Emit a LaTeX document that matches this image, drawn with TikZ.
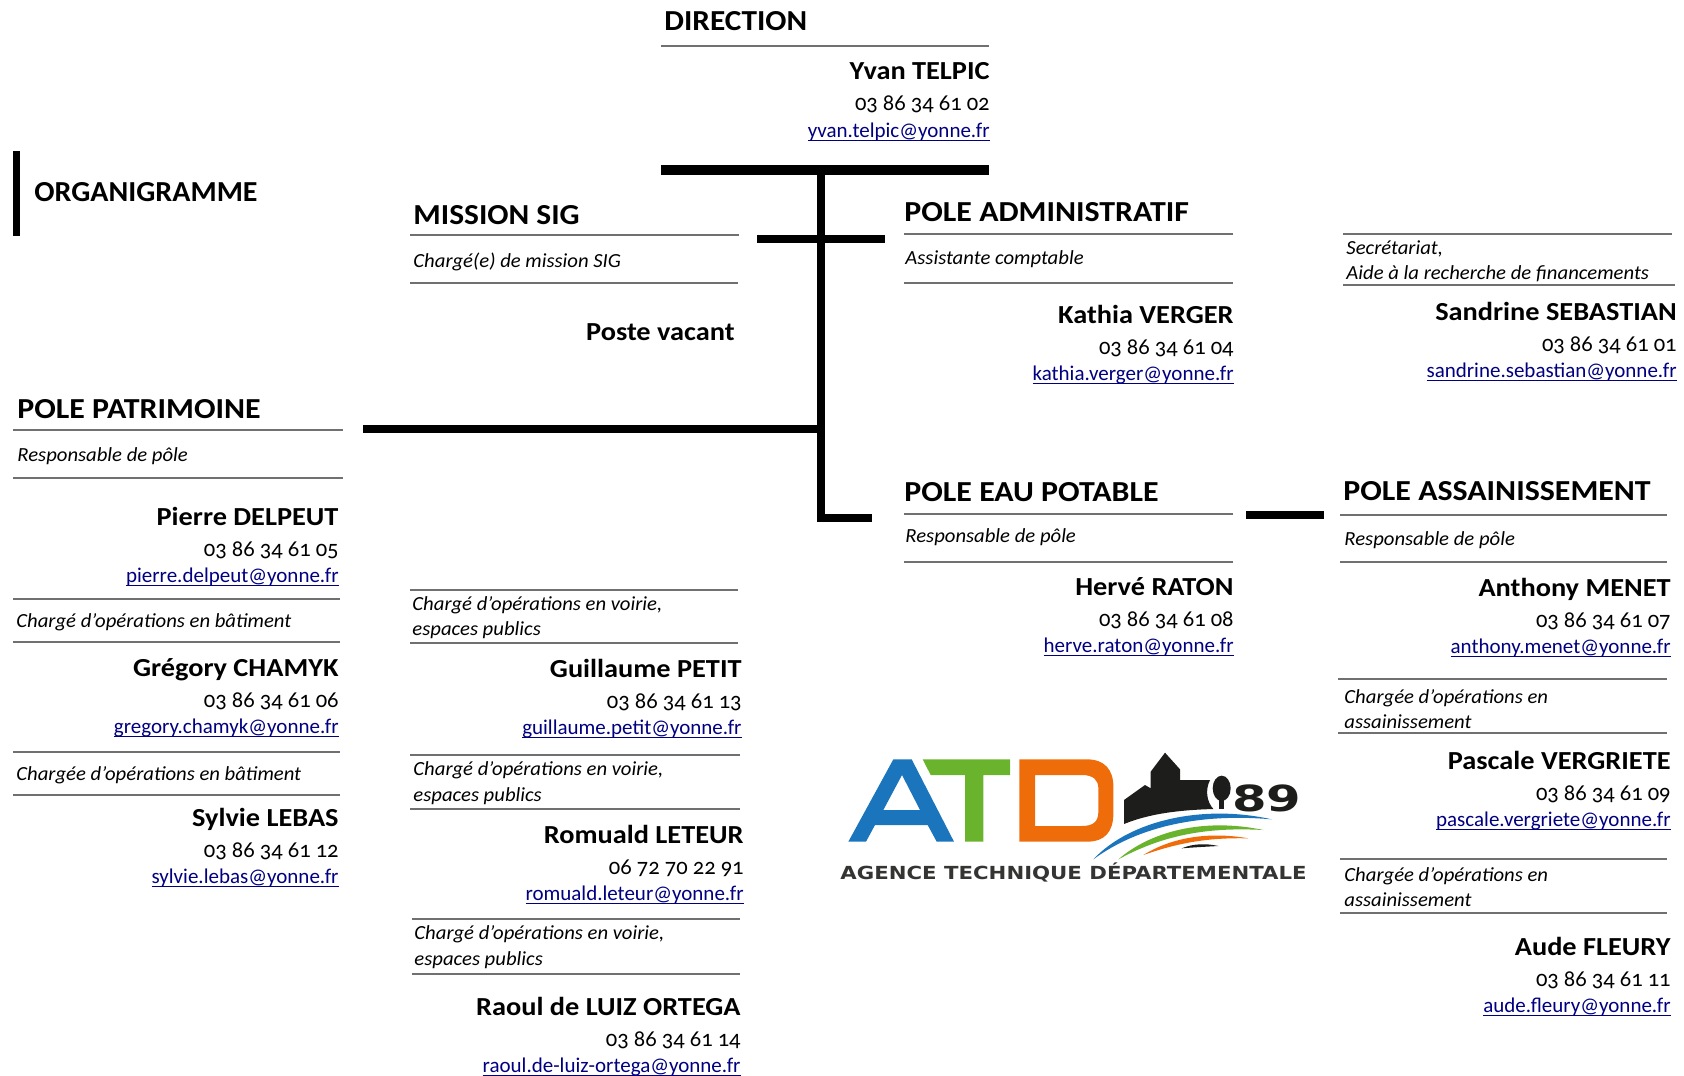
\documentclass[tikz,border=0pt]{standalone}
\usepackage{fontspec}
\setmainfont{Carlito}[Numbers=OldStyle]
\newfontfamily\logofont{DejaVu Sans}
\definecolor{maillink}{HTML}{000080}
\definecolor{rulegray}{HTML}{707070}
\definecolor{logoblue}{HTML}{1A75BC}
\definecolor{logogreen}{HTML}{6AB42D}
\definecolor{logoorange}{HTML}{EF6C0A}
\definecolor{logoblack}{HTML}{1D1D1B}
\tikzset{
  titletext/.style={anchor=base west,inner sep=0pt,font=\fontsize{14.5}{16}\selectfont\bfseries,xscale=1.10,transform shape},
  nametext/.style={anchor=base east,inner sep=0pt,font=\fontsize{13}{15}\selectfont\bfseries,xscale=1.09,transform shape},
  phonetext/.style={anchor=base east,inner sep=0pt,font=\fontsize{11.5}{14}\selectfont,xscale=0.98,transform shape},
  mailtext/.style={anchor=base east,inner sep=0pt,text=maillink,font=\fontsize{10.5}{13}\selectfont,xscale=1.0,transform shape},
  roletext/.style={anchor=base west,inner sep=0pt,font=\fontsize{10}{12}\selectfont\itshape,xscale=1.035,transform shape},
  sepline/.style={rulegray,line width=0.6pt},
  heavybar/.style={black,line width=4pt},
}
\newcommand{\mailul}[1]{\underline{\smash{#1}}}

\begin{document}
\begin{tikzpicture}[x=0.5pt,y=-0.5pt]
    \useasboundingbox (0,0) rectangle (1684,1075);

    %---------------------------------------------------------------%
    \fill [black] (13,151) rectangle (20,236);% Title mark
    \node [titletext,xscale=0.94] (Organigramme) at (34,202) {ORGANIGRAMME};

    \node [titletext,xscale=0.98] (Direction)  at (664,31)   {DIRECTION};
    \node [titletext,xscale=0.985] (MissionSig) at (413,225)  {MISSION SIG};
    \node [titletext] (PoleAdmin)      at (904,221)  {POLE ADMINISTRATIF};
    \node [titletext] (PolePatrimoine) at (17,418)   {POLE PATRIMOINE};
    \node [titletext] (PoleEau)        at (904,501)  {POLE EAU POTABLE};
    \node [titletext] (PoleAssain)     at (1343,500) {POLE ASSAINISSEMENT};
    \node [nametext]  (PosteVacant)    at (735,340)  {Poste vacant};

    %---------------------------------------------------------------%
    \foreach \x/\y/\z in {661/46/989,410/235/739,410/283/738,904/234/1233,904/283/1233,
        1343/234/1672,1343/285/1675,13/430/343,13/478/343,13/599/340,13/642/340,13/752/340,13/795/340,
        410/590/738,410/643/738,410/755/740,410/809/740,412/919/740,412/974/740,
        904/514/1233,904/562/1233,1340/515/1667,1340/562/1667,1338/679/1667,1338/733/1667,
        1340/859/1667,1340/913/1667}{% Thin rules under titles and roles
        \draw [sepline] (\x,\y) -- (\z,\y);
    }

    %---------------------------------------------------------------%
    \foreach \rid/\x/\y/\txt in {
        a/413/267/{Chargé(e) de mission SIG},
        b/905/264/{Assistante comptable},
        c/1346/254/{Secrétariat,},
        d/1346/279/{Aide à la recherche de financements},
        e/17/461/{Responsable de pôle},
        f/16/627/{Chargé d’opérations en bâtiment},
        g/16/780/{Chargée d’opérations en bâtiment},
        h/412/610/{Chargé d’opérations en voirie,},
        i/412/635/{espaces publics},
        j/413/775/{Chargé d’opérations en voirie,},
        k/413/801/{espaces publics},
        l/414/939/{Chargé d’opérations en voirie,},
        m/414/965/{espaces publics},
        n/905/542/{Responsable de pôle},
        o/1344/545/{Responsable de pôle},
        p/1344/703/{Chargée d’opérations en},
        q/1344/728/{assainissement},
        r/1344/881/{Chargée d’opérations en},
        s/1344/906/{assainissement}}{
        \node [roletext] (Role\rid) at (\x,\y) {\txt};
    }

    %---------------------------------------------------------------%
    \foreach \pid/\x/\y/\who/\tel/\adr in {
        a/990/80/{Yvan TELPIC}/{03 86 34 61 02}/{yvan.telpic@yonne.fr},
        b/1234/323/{Kathia VERGER}/{03 86 34 61 04}/{kathia.verger@yonne.fr},
        c/1677/320/{Sandrine SEBASTIAN}/{03 86 34 61 01}/{sandrine.sebastian@yonne.fr},
        d/339/525/{Pierre DELPEUT}/{03 86 34 61 05}/{pierre.delpeut@yonne.fr},
        e/339/676/{Grégory CHAMYK}/{03 86 34 61 06}/{gregory.chamyk@yonne.fr},
        f/339/826/{Sylvie LEBAS}/{03 86 34 61 12}/{sylvie.lebas@yonne.fr},
        g/742/677/{Guillaume PETIT}/{03 86 34 61 13}/{guillaume.petit@yonne.fr},
        h/744/843/{Romuald LETEUR}/{06 72 70 22 91}/{romuald.leteur@yonne.fr},
        i/741/1015/{Raoul de LUIZ ORTEGA}/{03 86 34 61 14}/{raoul.de-luiz-ortega@yonne.fr},
        j/1234/595/{Hervé RATON}/{03 86 34 61 08}/{herve.raton@yonne.fr},
        k/1671/596/{Anthony MENET}/{03 86 34 61 07}/{anthony.menet@yonne.fr},
        l/1671/769/{Pascale VERGRIETE}/{03 86 34 61 09}/{pascale.vergriete@yonne.fr},
        m/1671/955/{Aude FLEURY}/{03 86 34 61 11}/{aude.fleury@yonne.fr}}{
        \node [nametext]  (Name\pid)  at (\x,\y)      {\who};
        \node [phonetext] (Phone\pid) at (\x,\y+31)   {\tel};
        \node [mailtext]  (Mail\pid)  at (\x,\y+57.5) {\mailul{\adr}};
    }

    %---------------------------------------------------------------%
    \coordinate (DirLeft)    at (661,170);
    \coordinate (DirRight)   at (989,170);
    \coordinate (TrunkTop)   at (821,170);
    \coordinate (TrunkEnd)   at (821,518);
    \coordinate (EauEnd)     at (872,518);
    \coordinate (SigLeft)    at (757,238.5);
    \coordinate (AdminRight) at (885,238.5);
    \coordinate (PatLeft)    at (363,428.5);
    \coordinate (PatRight)   at (821,428.5);
    \coordinate (AssLeft)    at (1246,515);
    \coordinate (AssRight)   at (1324,515);
    \draw [heavybar,line width=5pt] (DirLeft) -- (DirRight);
    \draw [heavybar,line join=miter] (TrunkTop) -- (TrunkEnd) -- (EauEnd);
    \draw [heavybar] (SigLeft) -- (AdminRight);
    \draw [heavybar] (PatLeft) -- (PatRight);
    \draw [heavybar] (AssLeft) -- (AssRight);

    %---------------------------------------------------------------%
    \begin{scope}[shift={(830,730)},x=0.16667pt,y=-0.16667pt]
        \fill [logoblue,even odd rule] (55,335) -- (190,88) -- (245,88) -- (372,335) -- (320,335) -- (293,285)
            -- (135,285) -- (108,335) -- cycle (160,240) -- (270,240) -- (216,135) -- cycle;
        \fill [logogreen] (278,88) -- (540,88) -- (540,135) -- (460,135) -- (460,335) -- (405,335) -- (405,135) -- (302,135) -- cycle;
        \fill [logoorange,even odd rule] (568,88) -- (770,88) .. controls (825,88) and (850,120) .. (850,170)
            -- (850,250) .. controls (850,305) and (825,335) .. (770,335) -- (568,335) -- cycle
            (615,135) -- (615,288) -- (755,288) .. controls (790,288) and (805,275) .. (805,245)
            -- (805,175) .. controls (805,150) and (790,135) .. (755,135) -- cycle;
        \fill [logoblack] (882,210) -- (945,165) -- (962,175) -- (962,125) -- (1005,68) -- (1050,118) -- (1050,150)
            -- (1140,150) .. controls (1125,180) and (1130,215) .. (1150,237) .. controls (1050,240) and (960,250) .. (882,282) -- cycle;
        \fill [logoblack] (1175,175) ellipse (27 and 38);
        \fill [logoblack] (1168,200) rectangle (1182,238);
        \fill [logoblue] (790,388) .. controls (900,270) and (1120,222) .. (1325,268) .. controls (1120,250) and (930,285) .. cycle;
        \fill [logogreen] (865,388) .. controls (960,305) and (1120,262) .. (1300,300) .. controls (1120,290) and (990,320) .. cycle;
        \fill [logoorange] (940,375) .. controls (1020,325) and (1130,303) .. (1255,325) .. controls (1130,322) and (1040,340) .. cycle;
        \fill [logoblack] (1055,355) .. controls (1090,340) and (1130,340) .. (1165,348) .. controls (1130,350) and (1090,352) .. cycle;
        \node [anchor=base west,inner sep=0pt,text=logoblack,font=\logofont\bfseries\fontsize{18}{20}\selectfont,xscale=1.38,transform shape] (LogoNum) at (1205,245) {89};
        \node [anchor=base west,inner sep=0pt,text=logoblack!90,font=\logofont\bfseries\fontsize{9}{11}\selectfont,xscale=1.18,transform shape] (LogoText) at (30,447) {AGENCE TECHNIQUE DÉPARTEMENTALE};
    \end{scope}
\end{tikzpicture}
\end{document}
